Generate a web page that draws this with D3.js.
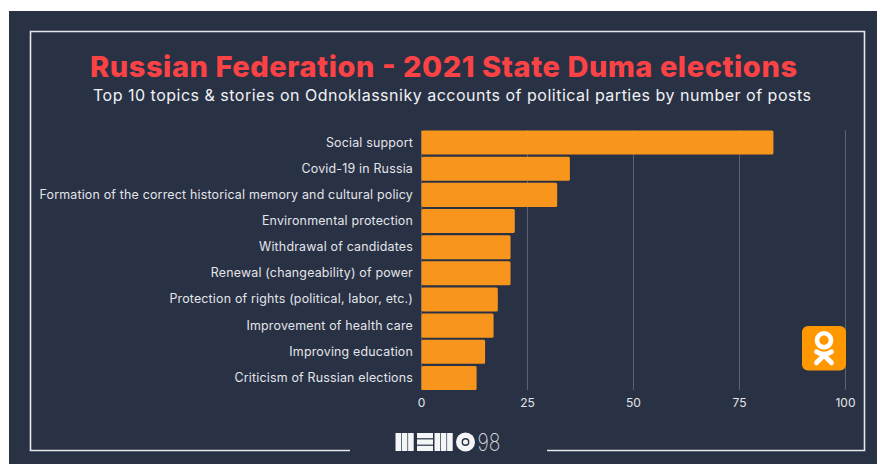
<!DOCTYPE html>
<meta charset="utf-8">
<style>
  html, body { margin: 0; padding: 0; background: #fff; overflow: hidden; }
  svg { display: block; }
  text { font-family: Inter, "Open Sans", sans-serif; }
</style>
<script src="https://d3js.org/d3.v7.min.js"></script>
<svg id="chart" width="877" height="464"></svg>
<script>
var topics = ["Social support", "Covid-19 in Russia", "Formation of the correct historical memory and cultural policy",
  "Environmental protection", "Withdrawal of candidates", "Renewal (changeability) of power",
  "Protection of rights (political, labor, etc.)", "Improvement of health care", "Improving education", "Criticism of Russian elections"];
var posts = [83, 35, 32, 22, 21, 21, 18, 17, 15, 13];
var ticks = [0, 25, 50, 75, 100];

var svg = d3.select("#chart");

// background panel
svg.append("rect").attr("x", 9).attr("y", 11).attr("width", 868).attr("height", 453).attr("fill", "#293145");

// white frame, open at the bottom for the logo
svg.append("path")
  .attr("d", "M350,450.5H30.5V31.5H864.5V450.5H547")
  .attr("fill", "none").attr("stroke", "#e6e8ea").attr("stroke-width", 1.6);

svg.append("text").attr("x", 443.5).attr("y", 77).attr("text-anchor", "middle")
  .attr("fill", "#fb4245").attr("font-size", 29).attr("font-weight", 800)
  .attr("textLength", 707).attr("lengthAdjust", "spacing")
  .text("Russian Federation - 2021 State Duma elections");
svg.append("text").attr("x", 452).attr("y", 101).attr("text-anchor", "middle")
  .attr("fill", "#f1f2f4").attr("font-size", 16)
  .attr("textLength", 718).attr("lengthAdjust", "spacing")
  .text("Top 10 topics & stories on Odnoklassniky accounts of political parties by number of posts");

// scales
var x = d3.scaleLinear().domain([0, 100]).range([421.5, 845.5]);
var y = d3.scaleBand().domain(topics).range([129.5, 391]).paddingInner(0.08).paddingOuter(0.04);

// grid
svg.append("g").selectAll("line").data(ticks).enter().append("line")
  .attr("x1", function(d){ return x(d) }).attr("x2", function(d){ return x(d) })
  .attr("y1", 130).attr("y2", 390)
  .attr("stroke", "#5b6272").attr("stroke-width", 1);

// bars
svg.append("g").selectAll("rect").data(posts).enter().append("rect")
  .attr("x", x(0))
  .attr("y", function(d, i){ return y(topics[i]) })
  .attr("width", function(d){ return x(d) - x(0) })
  .attr("height", y.bandwidth())
  .attr("rx", 1.5)
  .attr("fill", "#f8951d");

// labels
svg.append("g").selectAll("text").data(topics).enter().append("text")
  .attr("x", 413)
  .attr("y", function(d){ return y(d) + y.bandwidth() / 2 + 4 })
  .attr("text-anchor", "end")
  .attr("fill", "#e4e6e9").attr("font-size", 12.4).attr("letter-spacing", 0.2)
  .text(function(d){ return d });

// tick labels
svg.append("g").selectAll("text").data(ticks).enter().append("text")
  .attr("x", function(d){ return x(d) })
  .attr("y", 407)
  .attr("text-anchor", "middle")
  .attr("fill", "#e4e6e9").attr("font-size", 12)
  .text(function(d){ return d });

// Odnoklassniki logo
var ok = svg.append("g").attr("transform", "translate(824,348.3)");
ok.append("rect").attr("x", -22).attr("y", -22.3).attr("width", 44).attr("height", 44.6).attr("rx", 6).attr("fill", "#ff9800");
ok.append("circle").attr("cx", 0).attr("cy", -8).attr("r", 7).attr("fill", "none").attr("stroke", "#fff").attr("stroke-width", 4.6);
ok.append("path").attr("d", "M-7.5,3.5Q0,8.5 7.5,3.5M0,7L-7.5,14.5M0,7L7.5,14.5")
  .attr("fill", "none").attr("stroke", "#fff").attr("stroke-width", 4.8).attr("stroke-linecap", "round");

// MEMO98 logo
var logo = svg.append("g").attr("transform", "translate(395.5,433)").attr("fill", "#f4f5f6");
[0, 6.3, 12.6].forEach(function(d){ logo.append("rect").attr("x", d).attr("y", 0).attr("width", 5.6).attr("height", 18) });
[0, 6.4, 12.8].forEach(function(d){ logo.append("rect").attr("x", 21.5).attr("y", d).attr("width", 16).attr("height", 5.2) });
[0, 6.3, 12.6].forEach(function(d){ logo.append("rect").attr("x", 39 + d).attr("y", 0).attr("width", 5.6).attr("height", 18) });
logo.append("circle").attr("cx", 70).attr("cy", 9).attr("r", 9.5);
logo.append("circle").attr("cx", 70).attr("cy", 9).attr("r", 3.2).attr("fill", "none").attr("stroke", "#293145").attr("stroke-width", 1.4);
logo.append("text").attr("x", 82).attr("y", 18).attr("font-size", 24.5).attr("font-weight", 200).attr("fill", "#d5d8dc")
  .attr("textLength", 23).attr("lengthAdjust", "spacingAndGlyphs").text("98");
</script>
